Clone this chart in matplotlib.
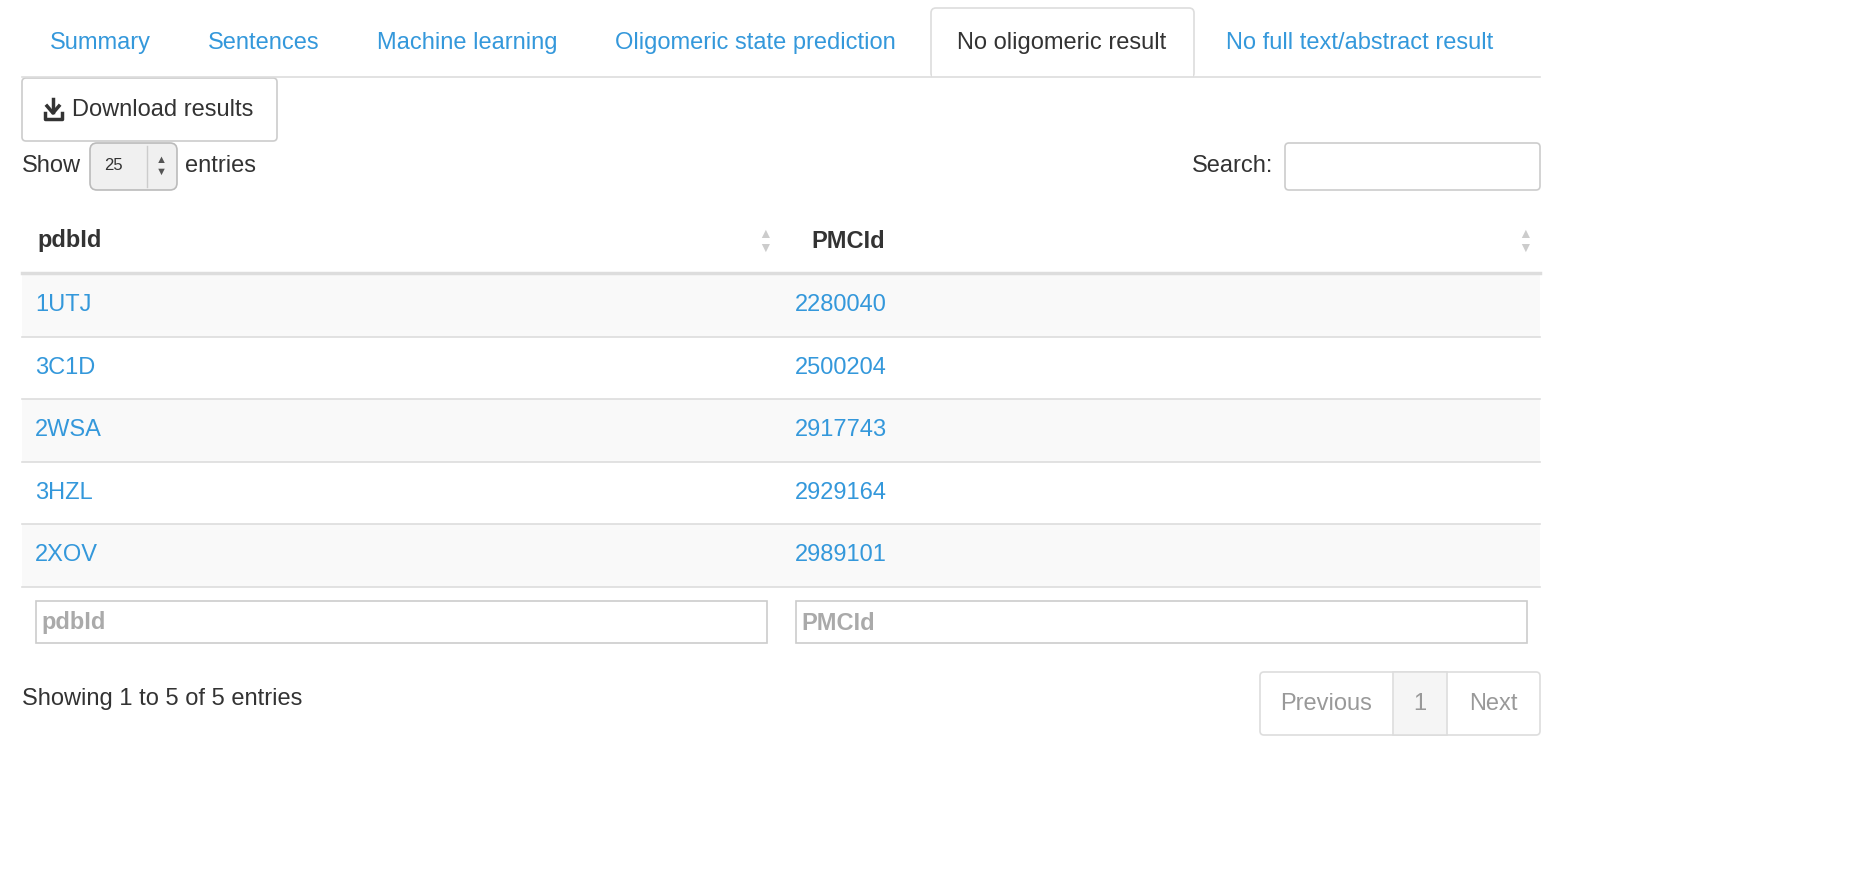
import matplotlib
matplotlib.use("Agg")
import matplotlib.pyplot as plt
from matplotlib.patches import Rectangle, FancyBboxPatch

plt.rcParams['font.family'] = ['Liberation Sans', 'DejaVu Sans']

tabs = ["Summary", "Sentences", "Machine learning", "Oligomeric state prediction",
        "No oligomeric result", "No full text/abstract result"]
tab_x = [50, 208, 377, 615, 957, 1226]
active_tab = 4
columns = ["pdbId", "PMCId"]
pdb_ids = ["1UTJ", "3C1D", "2WSA", "3HZL", "2XOV"]
pmc_ids = ["2280040", "2500204", "2917743", "2929164", "2989101"]
page_size = "25"

BLUE = "#3498db"
DARK = "#333333"
BORDER = "#dddddd"
FS = 17

fig = plt.figure(figsize=(18.58, 8.84), dpi=100)
ax = fig.add_axes([0, 0, 1, 1])
ax.set_xlim(0, 1858)
ax.set_ylim(884, 0)
ax.axis("off")

def box(x0, y0, x1, y1, fc="white", ec=BORDER, lw=1.2, r=4):
    ax.add_patch(FancyBboxPatch((x0, y0), x1 - x0, y1 - y0,
                                boxstyle=f"round,pad=0,rounding_size={r}",
                                fc=fc, ec=ec, lw=lw))

# tabs
ax.plot([22, 1540], [77, 77], color=BORDER, lw=1.2)
box(931, 8, 1194, 78, r=5)
ax.add_patch(Rectangle((932, 74), 261, 6, fc="white", ec="none"))
for i, (t, x) in enumerate(zip(tabs, tab_x)):
    ax.text(x, 43, t, fontsize=FS, va="center",
            color=DARK if i == active_tab else BLUE)

# download button
box(22, 78, 277, 141, ec="#cccccc")
ax.plot([53, 53], [99, 112], color=DARK, lw=2.5)
ax.plot([47, 53, 59], [106, 113, 106], color=DARK, lw=2.5)
ax.plot([45, 45, 62, 62], [113, 119, 119, 113], color=DARK, lw=2.5)
ax.text(72, 110, "Download results", fontsize=FS, va="center", color=DARK)

# length selector and search
ax.text(22, 166, "Show", fontsize=FS, va="center", color=DARK)
box(90, 143, 177, 190, fc="#f0f0f0", ec="#bbbbbb", r=7)
ax.plot([147, 147], [146, 187], color="#cccccc", lw=1)
ax.text(104, 166, page_size, fontsize=12, va="center", color=DARK)
ax.text(161, 160, "▲", fontsize=8, ha="center", va="center", color="#555555")
ax.text(161, 172, "▼", fontsize=8, ha="center", va="center", color="#555555")
ax.text(185, 166, "entries", fontsize=FS, va="center", color=DARK)
ax.text(1273, 166, "Search:", fontsize=FS, va="center", ha="right", color=DARK)
box(1285, 143, 1540, 190, ec="#cccccc")

# header
col_x = [37, 811]
arrow_x = [765, 1525]
for c, x, ax_ in zip(columns, col_x, arrow_x):
    ax.text(x, 241, c, fontsize=FS, va="center", weight="bold", color=DARK)
    ax.text(ax_, 234, "▲", fontsize=10, ha="center", va="center", color="#cccccc")
    ax.text(ax_, 248, "▼", fontsize=10, ha="center", va="center", color="#cccccc")
ax.plot([22, 1540], [273, 273], color=BORDER, lw=2.5)

# rows
row_h = 62.5
for i, (p, m) in enumerate(zip(pdb_ids, pmc_ids)):
    y0 = 274 + i * row_h
    if i % 2 == 0:
        ax.add_patch(Rectangle((22, y0), 1518, row_h, fc="#f9f9f9", ec="none"))
    ax.plot([22, 1540], [y0 + row_h, y0 + row_h], color=BORDER, lw=1.2)
    ax.text(35, y0 + row_h / 2, p, fontsize=FS, va="center", color=BLUE)
    ax.text(795, y0 + row_h / 2, m, fontsize=FS, va="center", color=BLUE)

# column filters
for (x0, x1), c in zip([(36, 767), (796, 1527)], columns):
    ax.add_patch(Rectangle((x0, 601), x1 - x0, 42, fc="white", ec="#cccccc", lw=1.2))
    ax.text(x0 + 5, 623, c, fontsize=FS, va="center", weight="bold", color="#aaaaaa")

# footer
ax.text(22, 699, f"Showing 1 to {len(pdb_ids)} of {len(pdb_ids)} entries",
        fontsize=FS, va="center", color=DARK)
box(1260, 672, 1540, 735, r=4)
ax.add_patch(Rectangle((1393, 672), 54, 63, fc="#f5f5f5", ec=BORDER, lw=1.2))
ax.text(1326, 704, "Previous", fontsize=FS, ha="center", va="center", color="#999999")
ax.text(1420, 704, "1", fontsize=FS, ha="center", va="center", color="#999999")
ax.text(1493, 704, "Next", fontsize=FS, ha="center", va="center", color="#999999")

fig.savefig("out.png", dpi=100)
